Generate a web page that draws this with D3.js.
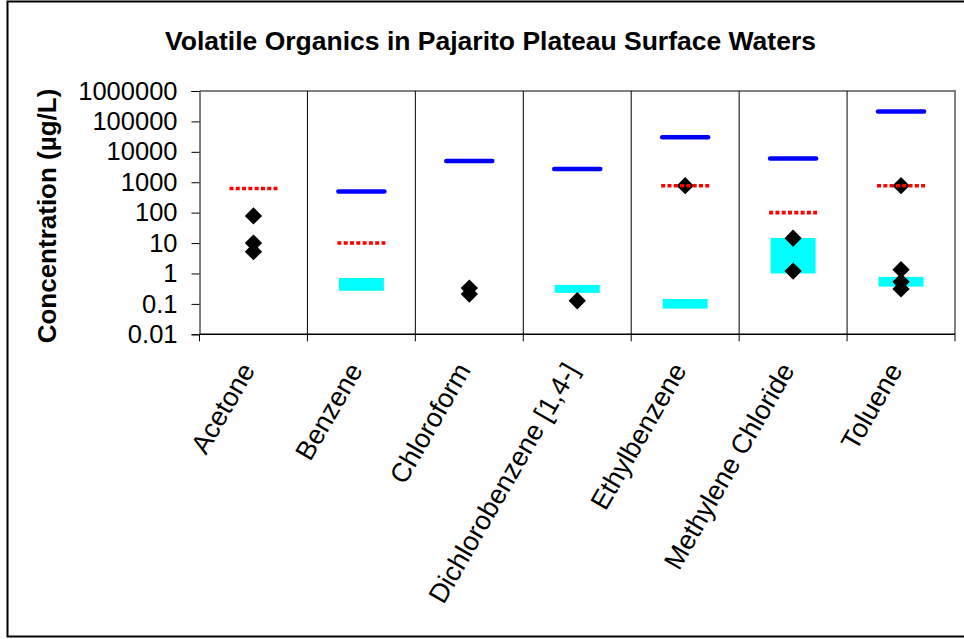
<!DOCTYPE html>
<html>
<meta charset="utf-8">
<style>
body { margin: 0; background: #fff; }
text { font-family: Arial, "Liberation Sans", sans-serif; }
</style>
<body>
<script src="https://d3js.org/d3.v7.min.js"></script>
<script>
var width = 964,
    height = 639;

// chart values
var categories = ["Acetone", "Benzene", "Chloroform", "Dichlorobenzene [1,4-]",
                  "Ethylbenzene", "Methylene Chloride", "Toluene"];
var upperLevel = [null, 500, 5000, 2700, 30000, 6000, 210000];      // blue solid line
var standardLevel = [620, 10, null, null, 770, 100, 770];           // red dotted line
var rangeLow  = [null, 0.27, null, 0.23, 0.07, 1.0, 0.37];          // cyan box bottom
var rangeHigh = [null, 0.71, null, 0.42, 0.145, 14.7, 0.77];        // cyan box top
var detections = [
  [78, 10, 5.2],
  [],
  [0.33, 0.21],
  [0.127],
  [770],
  [14.5, 1.2],
  [770, 1.33, 0.53, 0.31]
];
var yTicks = [0.01, 0.1, 1, 10, 100, 1000, 10000, 100000, 1000000];

var margin = {left: 199.5, right: 955, top: 91, bottom: 334.3};

var svg = d3.select("body").append("svg")
    .attr("width", width)
    .attr("height", height);

// outer chart border
svg.append("rect")
    .attr("x", 7.5).attr("y", 1.5)
    .attr("width", 1000).attr("height", 635)
    .style("fill", "none")
    .style("stroke", "#000")
    .style("stroke-width", 2);

var x = d3.scaleBand()
    .domain(categories)
    .range([margin.left, margin.right])
    .paddingInner(0).paddingOuter(0);

var y = d3.scaleLog()
    .domain([0.01, 1000000])
    .range([margin.bottom, margin.top]);

// plot area border (top & right gray)
svg.append("path")
    .attr("d", "M" + margin.left + "," + margin.top + "H" + margin.right + "V" + margin.bottom)
    .style("fill", "none")
    .style("stroke", "#808080")
    .style("stroke-width", 2);

// vertical gridlines at category boundaries
var bounds = categories.map(function(c) { return x(c); }).slice(1);
svg.selectAll(".vgrid")
    .data(bounds)
    .enter().append("line")
    .attr("class", "vgrid")
    .attr("x1", function(d) { return d; }).attr("x2", function(d) { return d; })
    .attr("y1", margin.top).attr("y2", margin.bottom)
    .style("stroke", "#000")
    .style("stroke-width", 1);

// y axis
var yAxis = svg.append("g")
    .attr("transform", "translate(" + margin.left + ",0)")
    .call(d3.axisLeft(y).tickValues(yTicks).tickFormat(function(d) { return String(d); })
          .tickSize(8).tickPadding(14));
yAxis.select(".domain").style("stroke", "#000");
yAxis.selectAll(".tick line").style("stroke", "#000");
yAxis.selectAll(".tick text")
    .style("font-size", "25.5px")
    .style("fill", "#000")
    .attr("font-family", null);

// x axis: ticks at category boundaries
var xAxis = svg.append("g")
    .attr("transform", "translate(0," + margin.bottom + ")");
xAxis.append("line")
    .attr("x1", margin.left).attr("x2", margin.right)
    .style("stroke", "#000").style("stroke-width", 1.5);
xAxis.selectAll(".xtick")
    .data(categories.map(function(c) { return x(c); }).concat([margin.right]))
    .enter().append("line")
    .attr("x1", function(d) { return d; }).attr("x2", function(d) { return d; })
    .attr("y1", 0).attr("y2", 7)
    .style("stroke", "#000");

xAxis.selectAll(".xlabel")
    .data(categories)
    .enter().append("text")
    .attr("class", "xlabel")
    .attr("transform", function(d) {
      return "translate(" + (x(d) + x.bandwidth() / 2 - 6) + ",31) rotate(-60)";
    })
    .attr("text-anchor", "end")
    .attr("dy", "0.35em")
    .style("font-size", "27px")
    .text(function(d) { return d; });

var cx = function(i) { return x(categories[i]) + x.bandwidth() / 2; };
var idx = categories.map(function(c, i) { return i; });

// cyan range boxes
svg.selectAll(".range")
    .data(idx.filter(function(i) { return rangeLow[i] != null; }))
    .enter().append("rect")
    .attr("class", "range")
    .attr("x", function(i) { return cx(i) - 22.5; })
    .attr("width", 45)
    .attr("y", function(i) { return y(rangeHigh[i]); })
    .attr("height", function(i) { return y(rangeLow[i]) - y(rangeHigh[i]); })
    .style("fill", "#00ffff");

// blue solid lines
svg.selectAll(".upper")
    .data(idx.filter(function(i) { return upperLevel[i] != null; }))
    .enter().append("line")
    .attr("class", "upper")
    .attr("x1", function(i) { return cx(i) - 23; })
    .attr("x2", function(i) { return cx(i) + 23; })
    .attr("y1", function(i) { return y(upperLevel[i]); })
    .attr("y2", function(i) { return y(upperLevel[i]); })
    .style("stroke", "#0000ff")
    .style("stroke-width", 4.5)
    .style("stroke-linecap", "round");

// black diamonds
var pts = [];
detections.forEach(function(arr, i) {
  arr.forEach(function(v) { pts.push({i: i, v: v}); });
});
var diamond = d3.symbol().type(d3.symbolSquare).size(150);
svg.selectAll(".pt")
    .data(pts)
    .enter().append("path")
    .attr("class", "pt")
    .attr("d", diamond)
    .attr("transform", function(d) { return "translate(" + cx(d.i) + "," + y(d.v) + ") rotate(45)"; })
    .style("fill", "#000");

// red dotted lines (drawn over the diamonds)
svg.selectAll(".standard")
    .data(idx.filter(function(i) { return standardLevel[i] != null; }))
    .enter().append("line")
    .attr("class", "standard")
    .attr("x1", function(i) { return cx(i) - 24; })
    .attr("x2", function(i) { return cx(i) + 24; })
    .attr("y1", function(i) { return y(standardLevel[i]); })
    .attr("y2", function(i) { return y(standardLevel[i]); })
    .style("stroke", "#ff0000")
    .style("stroke-width", 3.6)
    .style("stroke-dasharray", "4,2.3");

// title
svg.append("text")
    .attr("x", 490.5).attr("y", 49.5)
    .attr("text-anchor", "middle")
    .style("font-size", "26.5px")
    .style("font-weight", "bold")
    .text("Volatile Organics in Pajarito Plateau Surface Waters");

// y label
svg.append("text")
    .attr("transform", "translate(56,216) rotate(-90)")
    .attr("text-anchor", "middle")
    .style("font-size", "26px")
    .style("font-weight", "bold")
    .text("Concentration (µg/L)");
</script>
</body>
</html>
